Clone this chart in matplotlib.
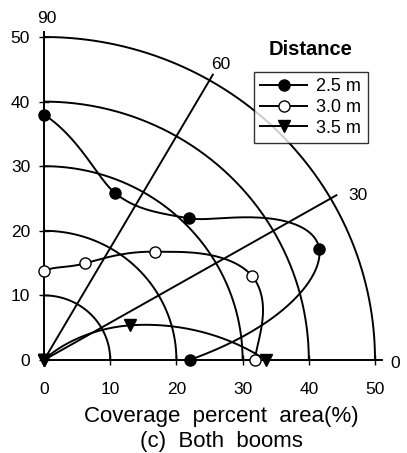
# Coverage pattern, both booms, polar-style quarter plot

import numpy as np
import matplotlib.pyplot as plt

plt.rcParams['font.family'] = ['Liberation Sans', 'DejaVu Sans']

# Data: coverage radius (%) at each boom angle (deg)
angles = [90, 67.5, 45, 22.5, 0]
r_25 = [38, 28, 31, 45, 22]
r_30 = [13.8, 16.2, 23.7, 34, 31.8]
r_35 = [0, 0, 0, 14, 33.5]
labels = ['2.5 m', '3.0 m', '3.5 m']
ring_radii = [10, 20, 30, 40, 50]
spoke_angles = [60, 30]
ticks = [0, 10, 20, 30, 40, 50]


def smooth_polar(theta, r, n=40):
    """Catmull-Rom spline of r over angle, returns x, y of the curve."""
    theta = np.asarray(theta, float)
    r = np.asarray(r, float)
    k = len(r)
    m = np.zeros(k)
    m[1:-1] = (r[2:] - r[:-2]) / 2
    m[0] = r[1] - r[0]
    m[-1] = r[-1] - r[-2]
    th_all, r_all = [], []
    for i in range(k - 1):
        t = np.linspace(0, 1, n)
        h00 = 2 * t**3 - 3 * t**2 + 1
        h10 = t**3 - 2 * t**2 + t
        h01 = -2 * t**3 + 3 * t**2
        h11 = t**3 - t**2
        rr = h00 * r[i] + h10 * m[i] + h01 * r[i + 1] + h11 * m[i + 1]
        th_all.append(theta[i] + t * (theta[i + 1] - theta[i]))
        r_all.append(rr)
    th = np.radians(np.concatenate(th_all))
    rr = np.maximum(np.concatenate(r_all), 0)
    return rr * np.cos(th), rr * np.sin(th)


def to_xy(theta, r):
    th = np.radians(theta)
    return np.asarray(r) * np.cos(th), np.asarray(r) * np.sin(th)


fig = plt.figure(figsize=(4.07, 4.53), dpi=100)
ax = fig.add_axes([0.0756, 0.1768, 0.8946, 0.7843])
ax.set_xlim(-2, 53)
ax.set_ylim(-2, 53)

lw = 1.4
# rings and spokes
for rad in ring_radii:
    t = np.linspace(0, np.pi / 2, 200)
    ax.plot(rad * np.cos(t), rad * np.sin(t), color='black', lw=lw)
for a in spoke_angles:
    ax.plot([0, 51 * np.cos(np.radians(a))], [0, 51 * np.sin(np.radians(a))],
            color='black', lw=lw)

# angle labels
ax.text(0.45, 52.8, '90', ha='center', va='center', fontsize=12.5)
ax.text(26.7, 45.8, '60', ha='center', va='center', fontsize=12.5)
ax.text(47.4, 25.4, '30', ha='center', va='center', fontsize=12.5)
ax.text(53.0, -0.5, '0', ha='center', va='center', fontsize=12.5)

# series
styles = [dict(marker='o', mfc='black'),
          dict(marker='o', mfc='white'),
          dict(marker='v', mfc='black')]
handles = []
for r, lab, st in zip([r_25, r_30, r_35], labels, styles):
    cx, cy = smooth_polar(angles, r)
    ax.plot(cx, cy, color='black', lw=lw, clip_on=False)
    px, py = to_xy(angles, r)
    ax.plot(px, py, ls='none', marker=st['marker'], ms=8, mfc=st['mfc'],
            mec='black', mew=1, clip_on=False, zorder=5)
    h, = ax.plot([], [], color='black', lw=lw, marker=st['marker'], ms=8,
                 mfc=st['mfc'], mec='black', mew=1, label=lab)
    handles.append(h)

# axes
for s in ['top', 'right']:
    ax.spines[s].set_visible(False)
ax.spines['left'].set_position(('data', 0))
ax.spines['bottom'].set_position(('data', 0))
ax.spines['left'].set_bounds(0, 50.7)
ax.spines['bottom'].set_bounds(0, 51)
ax.spines['left'].set_linewidth(lw)
ax.spines['bottom'].set_linewidth(lw)
ax.set_xticks(ticks)
ax.set_yticks(ticks)
ax.tick_params(direction='inout', length=7, width=1, labelsize=12.5)
ax.tick_params(axis='x', pad=12.5)
ax.tick_params(axis='y', pad=6.5)

leg = fig.legend(handles=handles, loc='upper left', bbox_to_anchor=(0.624, 0.841),
                 bbox_transform=fig.transFigure, borderaxespad=0, fancybox=False,
                 edgecolor='black', fontsize=13, handlelength=2.6,
                 labelspacing=0.2, handletextpad=0.5, borderpad=0.35)
leg.get_frame().set_linewidth(1)
fig.text(0.764, 0.89, 'Distance', ha='center', va='center', fontsize=14.5,
         fontweight='bold')

fig.text(0.543, 1 - 422 / 453, 'Coverage  percent  area(%)', ha='center',
         va='baseline', fontsize=16)
fig.text(0.543, 1 - 447 / 453, '(c)  Both  booms', ha='center', va='baseline',
         fontsize=16)

fig.savefig('out.png', dpi=100)
